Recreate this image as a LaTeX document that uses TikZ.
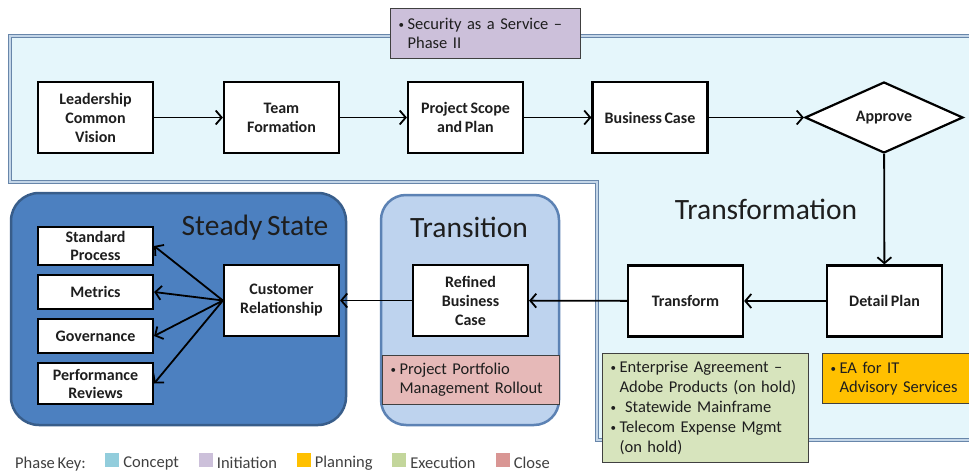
\documentclass[tikz,border=0pt]{standalone}
\usepackage{fontspec}
\setmainfont{Carlito}[WordSpace=0.7]
\usetikzlibrary{shapes.geometric,arrows.meta,positioning}

\definecolor{pagecyan}{RGB}{229,246,251}
\definecolor{frameedge}{RGB}{104,134,170}
\definecolor{framemid}{RGB}{196,214,232}
\definecolor{steadyfill}{RGB}{76,128,192}
\definecolor{steadyedge}{RGB}{56,93,138}
\definecolor{transfill}{RGB}{190,211,238}
\definecolor{transedge}{RGB}{92,130,180}
\definecolor{noteedge}{RGB}{64,64,64}
\definecolor{notetext}{RGB}{30,30,30}
\definecolor{keyconcept}{RGB}{146,205,220}
\definecolor{keyinit}{RGB}{204,192,218}
\definecolor{keyplan}{RGB}{255,192,0}
\definecolor{keyexec}{RGB}{195,214,155}
\definecolor{keyclose}{RGB}{217,150,148}
\definecolor{execfill}{RGB}{215,228,189}
\definecolor{closefill}{RGB}{230,185,184}
\definecolor{keytextgray}{RGB}{64,64,64}

\newcommand{\pitem}{\makebox[9pt][l]{\raisebox{1.2pt}{\fontsize{11}{11}\selectfont\textbullet}}}
\newcommand{\pcont}{\hspace*{9pt}}

\begin{document}
\begin{tikzpicture}[x=1pt,y=-1pt,
		stepbox/.style={draw,line width=2.2pt,fill=white,minimum width=115pt,minimum height=71pt,inner sep=2pt,align=center,text=notetext,font=\bfseries\fontsize{16}{19}\selectfont},
		sidebox/.style={stepbox,minimum height=34pt,font=\bfseries\fontsize{16}{18}\selectfont},
		decide/.style={diamond,draw,line width=2.2pt,fill=white,minimum width=158pt,minimum height=71pt,inner sep=0pt,text=notetext,font=\bfseries\fontsize{16}{19}\selectfont},
		note/.style={draw=noteedge,line width=1.2pt,anchor=north west,inner xsep=8pt,inner ysep=2pt,align=left,text=notetext,font=\fontsize{16.5}{19}\selectfont},
		phase/.style={font=\fontsize{29.5}{32}\selectfont,text=notetext},
		conn/.style={-{Straight Barb[length=6pt,width=14pt]},line width=1.8pt},
		keysq/.style={minimum size=14pt,inner sep=0pt},
		keytext/.style={font=\fontsize{16.5}{18}\selectfont,text=keytextgray,inner sep=1pt}]
	\clip (0,0) rectangle (969,476);
	\fill[white] (0,0) rectangle (969,476);

	\draw[draw=frameedge,line width=1pt,double=framemid,double distance=2.5pt,fill=pagecyan]
		(10,36) -- (980,36) -- (980,440) -- (597,440) -- (597,182) -- (10,182) -- cycle;

	\draw[fill=steadyfill,draw=steadyedge,line width=2.5pt,rounded corners=28pt] (11,193) rectangle (346,425);
	\draw[fill=transfill,draw=transedge,line width=2.5pt,rounded corners=25pt] (381,195) rectangle (559,425);

	\node[phase] (steadytitle) at (255,228) {Steady State};
	\node[phase] (transtitle) at (469,227) {Transition};
	\node[phase] (transformtitle) at (766,209) {Transformation};

	\node[note,fill=keyinit,text width=174pt,minimum height=50pt] (secnote) at (390,8) {\pitem Security as a Service --\\\pcont Phase II};
	\node[note,fill=closefill,text width=161pt,minimum height=49pt] (ppmnote) at (382,355) {\pitem Project Portfolio\\\pcont Management Rollout};
	\node[note,fill=execfill,text width=190pt,minimum height=109pt,font=\fontsize{16.5}{20}\selectfont] (eanote) at (602,353) {\pitem Enterprise Agreement --\\\pcont Adobe Products (on hold)\\\pitem\ Statewide Mainframe\\\pitem Telecom Expense Mgmt\\\pcont (on hold)};
	\node[note,fill=keyplan,text width=144pt,minimum height=50pt] (advnote) at (822,353) {\pitem EA for IT\\\pcont Advisory Services};

	\node[stepbox] (lead) at (95.5,117.5) {Leadership\\Common\\Vision};
	\node[stepbox] (team) at (281.5,117.5) {Team\\Formation};
	\node[stepbox] (scope) at (465.5,117.5) {Project Scope\\and Plan};
	\node[stepbox] (bcase) at (650,117.5) {Business Case};
	\node[decide] (approve) at (884,117.5) {Approve};
	\node[stepbox] (detail) at (884.5,301) {Detail Plan};
	\node[stepbox] (transform) at (685.5,301) {Transform};
	\node[stepbox] (refined) at (470.5,300.5) {Refined\\Business\\Case};
	\node[stepbox] (customer) at (281.5,300.5) {Customer\\Relationship};

	\node[sidebox,minimum height=38pt] (stdproc) at (95.5,246) {Standard\\Process};
	\node[sidebox] (metrics) at (95.5,292) {Metrics};
	\node[sidebox] (govern) at (95.5,336) {Governance};
	\node[sidebox,minimum height=41pt] (perfrev) at (95.5,383.5) {Performance\\Reviews};

	\draw[conn] (lead) -- (team);
	\draw[conn] (team) -- (scope);
	\draw[conn] (scope) -- (bcase);
	\draw[conn] (bcase) -- (approve);
	\draw[conn] (approve) -- (detail);
	\draw[conn] (detail) -- (transform);
	\draw[conn] (transform) -- (refined);
	\draw[conn] (refined) -- (customer);
	\draw[conn] (customer.west) -- (stdproc.east);
	\draw[conn] (customer.west) -- (metrics.east);
	\draw[conn] (customer.west) -- (govern.east);
	\draw[conn] (customer.west) -- (perfrev.east);

	\node[keytext,anchor=west] (phasekey) at (14,464) {Phase Key:};
	\foreach \nm/\col/\xx in {Concept/keyconcept/112,Initiation/keyinit/205.5,Planning/keyplan/303.5,Execution/keyexec/399,Close/keyclose/502.5}{
		\node[keysq,fill=\col] (key\nm) at (\xx,460) {};
		\node[keytext,right=3pt of key\nm,yshift=-3pt] (lbl\nm) {\nm};
	}
\end{tikzpicture}
\end{document}
